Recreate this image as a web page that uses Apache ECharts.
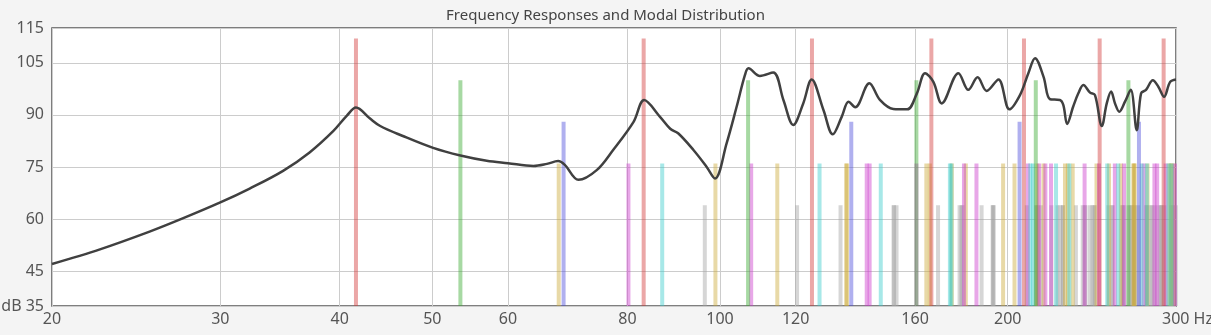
<!DOCTYPE html>
<html>
<head>
<meta charset="utf-8">
<script src="https://cdn.jsdelivr.net/npm/echarts@6/dist/echarts.min.js"></script>
<style>
html,body{margin:0;padding:0;background:#f4f4f4;}
#chart{width:1211px;height:335px;}
</style>
</head>
<body>
<div id="chart"></div>
<script>
// ---- data ----
var xTicks = [20, 30, 40, 50, 60, 80, 100, 120, 160, 200, 300];
var yTicks = [35, 45, 60, 75, 90, 105, 115];

// frequency response (Hz, dB)
var respFreq = [20, 22.45, 25.3, 27.4, 30.0, 32.2, 34.9, 37.2, 39.4, 40.7, 41.6, 43.0, 44.1, 46.5, 50.1, 53.5, 57.0, 60.0, 63.8, 65.9, 67.7, 68.8, 71.1, 74.3, 77.3, 81.2, 83.3, 86.5, 88.7, 90.4, 93.8, 96.8, 98.8, 101.6, 104.1, 106.2, 107.1, 110.1, 113.7, 116.5, 119.3, 122.2, 124.7, 128.3, 131.2, 134.1, 136.3, 138.5, 143.3, 147.0, 151.8, 157.0, 160.7, 163.9, 167.2, 170.6, 177.6, 181.9, 186.0, 190.1, 195.6, 200.8, 206.0, 210.2, 213.6, 218.0, 221.5, 226.8, 228.7, 230.8, 234.2, 237.1, 240.0, 243.9, 246.8, 250.9, 253.9, 256.6, 259.0, 261.7, 265.3, 269.0, 272.9, 275.8, 279.1, 283.7, 287.5, 291.5, 295.8, 300];
var respDb = [47.1, 51.3, 56.4, 60.2, 64.8, 68.8, 73.9, 79.2, 85.4, 89.8, 92.1, 89.0, 86.8, 84.0, 80.5, 78.3, 76.8, 76.1, 75.3, 75.9, 76.7, 75.6, 71.3, 74.1, 79.9, 88.0, 94.3, 89.5, 86.0, 84.7, 79.9, 75.1, 71.7, 81.8, 92.4, 101.5, 103.4, 101.2, 102.2, 94.3, 87.1, 93.3, 100.2, 91.4, 84.4, 89.5, 93.8, 92.2, 99.1, 94.3, 91.7, 91.6, 96.2, 102.0, 99.5, 93.3, 102.0, 97.2, 100.8, 96.9, 100.2, 91.6, 95.7, 102.0, 106.3, 101.0, 94.5, 94.3, 92.8, 87.4, 92.4, 96.2, 98.6, 96.4, 95.7, 86.8, 93.3, 96.7, 93.3, 90.9, 93.8, 97.2, 85.6, 96.2, 97.2, 100.0, 98.1, 95.2, 99.5, 100.2];

// modal frequencies (Hz)
var axialL = [41.6, 83.2, 124.8, 166.4, 208.0, 249.6, 291.2];
var axialW = [53.5, 107.0, 160.5, 214.0, 267.5];
var axialH = [68.6, 137.2, 205.8, 274.4];
var tanLW = [67.8, 98.9, 114.8, 135.5, 135.8, 164.4, 165.8, 174.8, 180.8, 197.8, 203.3, 214.8, 218.0, 229.6, 231.2, 233.9, 247.7, 255.3, 262.7, 270.7, 271.1, 271.6, 280.1, 295.2, 296.1, 296.8, 298.4];
var tanLH = [80.2, 107.8, 142.4, 143.4, 160.5, 180.0, 185.5, 210.0, 215.7, 219.0, 222.0, 240.7, 249.2, 258.9, 264.7, 277.5, 284.8, 286.7, 292.6, 299.2];
var tanWH = [87.0, 127.1, 147.3, 174.0, 174.6, 211.2, 212.6, 224.7, 232.0, 254.2, 261.0, 276.2, 279.6, 294.5, 296.9];
var oblique = [96.4, 120.4, 133.7, 151.9, 152.1, 153.0, 169.1, 178.1, 178.9, 179.4, 187.8, 192.9, 193.0, 193.4, 209.4, 214.1, 214.6, 215.2, 216.7, 222.2, 225.5, 227.0, 228.3, 228.5, 235.7, 239.6, 240.8, 241.2, 243.8, 245.3, 246.4, 246.6, 254.9, 257.1, 257.6, 263.4, 264.3, 264.3, 267.5, 268.8, 270.0, 271.2, 271.5, 273.9, 279.3, 279.6, 280.1, 282.6, 283.2, 285.5, 288.4, 289.3, 289.8, 291.7, 296.4, 297.5, 297.5, 299.8];

// bar levels (dB) per mode type
var levelAxialL = 112, levelAxialW = 100, levelAxialH = 88, levelTan = 76, levelObl = 64;

// ---- chart ----
var FONT = 'Noto Sans';
var chart = echarts.init(document.getElementById('chart'), null, {renderer: 'canvas'});

function pairs(freqs, level) {
  return freqs.map(function (f) { return [f, level]; });
}
function modeSeries(name, freqs, level, color) {
  return {
    name: name,
    type: 'custom',
    coordinateSystem: 'cartesian2d',
    encode: {x: 0, y: 1},
    z: 2,
    silent: true,
    data: pairs(freqs, level),
    renderItem: function (params, api) {
      var f = api.value(0), h = api.value(1);
      var top = api.coord([f, h]);
      var bot = api.coord([f, 35]);
      return {
        type: 'rect',
        shape: {x: top[0] - 2, y: top[1], width: 4, height: bot[1] - top[1]},
        style: {fill: color}
      };
    }
  };
}

var option = {
  backgroundColor: '#f4f4f4',
  animation: false,
  title: {
    text: 'Frequency Responses and Modal Distribution',
    left: 'center',
    top: 3,
    textStyle: {fontFamily: FONT, fontSize: 15, fontWeight: 'normal', color: '#444'}
  },
  grid: {
    left: 52, right: 35, top: 28, bottom: 29,
    containLabel: false,
    outerBoundsMode: 'none',
    show: true, backgroundColor: '#ffffff', borderColor: '#555', borderWidth: 1.5
  },
  xAxis: {
    type: 'log',
    logBase: 10,
    min: 20,
    max: 300,
    axisLine: {show: false},
    axisTick: {show: false, customValues: xTicks},
    splitLine: {show: true, lineStyle: {color: '#cccccc', width: 1}},
    axisLabel: {
      customValues: xTicks,
      fontFamily: FONT, fontSize: 16, color: '#555', margin: 5,
      formatter: function (v) { return v >= 299 ? '{u|300 Hz}' : String(Math.round(v)); },
      rich: {u: {fontFamily: FONT, fontSize: 16, color: '#555', padding: [0, 0, 0, 23]}}
    }
  },
  yAxis: {
    type: 'value',
    min: 35,
    max: 115,
    axisLine: {show: false},
    axisTick: {show: false, customValues: yTicks},
    splitLine: {show: true, lineStyle: {color: '#cccccc', width: 1}},
    axisLabel: {
      customValues: yTicks,
      fontFamily: FONT, fontSize: 16, color: '#555', margin: 8,
      formatter: function (v) { return v === 35 ? 'dB 35' : String(v); }
    }
  },
  series: [
    modeSeries('Oblique', oblique, levelObl, 'rgba(165,165,165,0.45)'),
    modeSeries('Tangential LW', tanLW, levelTan, 'rgba(205,170,60,0.45)'),
    modeSeries('Tangential LH', tanLH, levelTan, 'rgba(205,60,205,0.45)'),
    modeSeries('Tangential WH', tanWH, levelTan, 'rgba(60,205,205,0.45)'),
    modeSeries('Axial H', axialH, levelAxialH, 'rgba(80,80,220,0.45)'),
    modeSeries('Axial W', axialW, levelAxialW, 'rgba(60,170,50,0.45)'),
    modeSeries('Axial L', axialL, levelAxialL, 'rgba(210,60,60,0.45)'),
    {
      name: 'Response',
      type: 'line',
      z: 5,
      silent: true,
      smooth: 0.35,
      showSymbol: false,
      lineStyle: {color: '#404040', width: 2.5},
      data: respFreq.map(function (f, i) { return [f, respDb[i]]; })
    }
  ]
};
chart.setOption(option);
</script>
</body>
</html>
